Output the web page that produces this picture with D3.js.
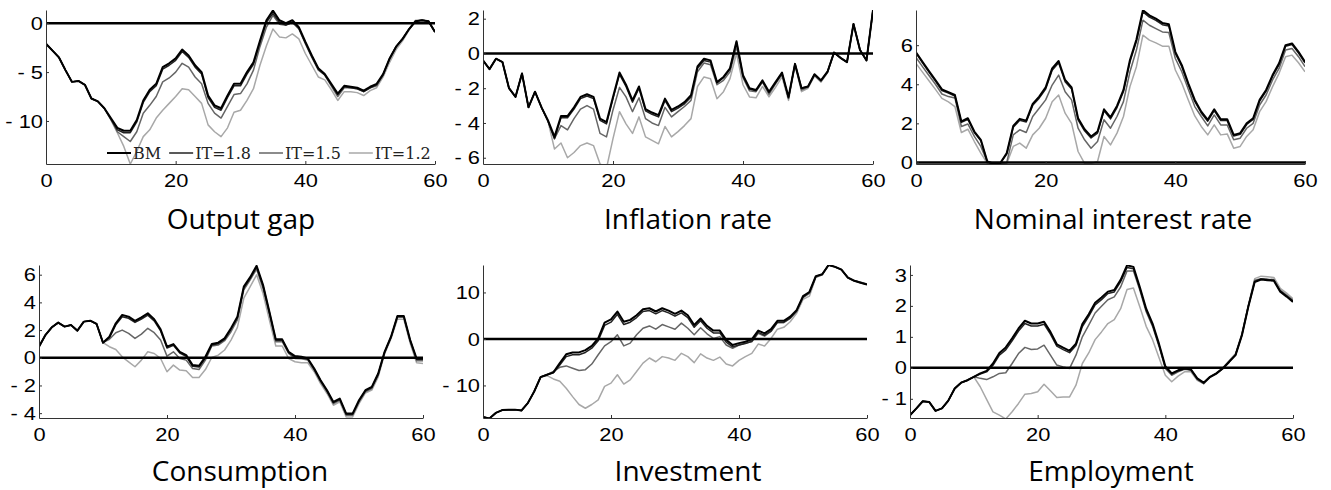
<!DOCTYPE html>
<html>
<head>
<meta charset="utf-8">
<script src="https://d3js.org/d3.v7.min.js"></script>
<style>
  body { margin: 0; background: #fff; }
  svg { display: block; }
  .tick text { font-family: "Liberation Sans", Arial, sans-serif; font-size: 19px; fill: #000;
               transform-box: fill-box; transform: scaleX(1.15); }
  .xaxis .tick text { transform-origin: center; }
  .yaxis .tick text { transform-origin: right center; }
  .domain, .tick line { stroke: #333; }
</style>
</head>
<body>
<svg id="chart" width="1331" height="490"></svg>
<script>
// x axis: quarters 0..60
var xTicks = [0, 20, 40, 60];
var seriesNames = ["BM", "IT=1.8", "IT=1.5", "IT=1.2"];

// Output gap
var gapBM = [-2.1,-2.8,-3.5,-4.8,-6.0,-5.9,-6.3,-7.7,-8.0,-8.7,-9.7,-10.7,-11.0,-11.0,-9.9,-7.9,-6.8,-6.2,-4.5,-4.1,-3.6,-2.7,-3.3,-4.3,-5.0,-7.4,-8.4,-8.7,-7.4,-6.2,-6.2,-5.0,-4.0,-1.8,0.3,1.3,0.3,0.0,0.3,-0.4,-1.9,-3.3,-4.6,-5.2,-6.2,-7.2,-6.4,-6.5,-6.6,-6.9,-6.5,-6.2,-5.2,-3.6,-2.4,-1.6,-0.6,0.2,0.3,0.2,-0.9];
var gapIT18 = [-2.1,-2.8,-3.5,-4.8,-6.0,-5.9,-6.3,-7.7,-8.0,-8.7,-9.8,-10.9,-11.2,-11.2,-10.1,-8.1,-7.0,-6.4,-4.7,-4.3,-3.8,-2.9,-3.5,-4.5,-5.2,-7.6,-8.6,-8.9,-7.6,-6.4,-6.4,-5.2,-4.2,-2.0,0.1,1.0,0.1,-0.2,0.1,-0.5,-2.0,-3.4,-4.7,-5.3,-6.3,-7.3,-6.5,-6.6,-6.7,-7.0,-6.6,-6.3,-5.3,-3.6,-2.4,-1.6,-0.6,0.2,0.3,0.2,-0.9];
var gapIT15 = [-2.1,-2.8,-3.5,-4.8,-6.0,-5.9,-6.3,-7.7,-8.0,-8.7,-9.8,-11.1,-11.6,-12.1,-11.1,-9.2,-8.4,-7.5,-6.0,-5.6,-5.0,-4.1,-4.5,-5.5,-6.2,-8.2,-9.2,-9.7,-8.5,-7.3,-7.2,-6.2,-4.8,-2.4,-0.4,0.8,-0.1,-0.2,0.1,-0.6,-2.1,-3.5,-4.8,-5.3,-6.4,-7.5,-6.6,-6.6,-6.7,-7.0,-6.6,-6.4,-5.2,-3.7,-2.4,-1.6,-0.6,0.2,0.3,0.2,-0.9];
var gapIT12 = [-2.1,-2.8,-3.5,-4.8,-6.0,-5.9,-6.3,-7.7,-8.0,-8.7,-9.9,-11.2,-12.6,-14.4,-13.1,-11.6,-10.9,-9.7,-8.9,-8.2,-7.5,-6.7,-6.8,-7.5,-8.2,-10.4,-11.1,-11.6,-10.7,-9.1,-8.9,-7.9,-6.7,-4.3,-2.3,-0.6,-1.4,-1.5,-1.1,-1.6,-3.1,-4.3,-5.5,-5.8,-6.8,-7.9,-7.0,-7.0,-7.1,-7.4,-6.9,-6.6,-5.5,-4.0,-2.7,-1.8,-0.7,0.3,0.3,0.2,-0.9];
var gapDomain = [-14.4, 1.35];
var gapTicks = [-10, -5, 0];

// Inflation rate
var inflBM = [-0.4,-0.9,-0.3,-0.5,-2.0,-2.5,-1.15,-3.1,-2.2,-3.1,-3.85,-4.8,-3.6,-3.6,-3.1,-2.5,-2.35,-2.5,-3.75,-3.95,-2.5,-1.1,-1.8,-2.7,-1.9,-3.2,-3.4,-3.55,-2.6,-3.25,-3.05,-2.8,-2.4,-0.75,-0.3,-0.4,-1.65,-1.35,-0.85,0.7,-1.25,-2.0,-2.1,-1.55,-2.2,-1.65,-1.1,-2.5,-0.6,-2.0,-1.9,-1.2,-1.55,-1.05,0.05,-0.25,-0.5,1.7,0.2,-0.4,2.5];
var inflIT18 = [-0.4,-0.9,-0.3,-0.5,-2.0,-2.5,-1.15,-3.1,-2.2,-3.1,-3.9,-4.9,-3.7,-3.7,-3.2,-2.6,-2.45,-2.6,-3.85,-4.05,-2.6,-1.2,-1.9,-2.8,-2.0,-3.3,-3.5,-3.65,-2.7,-3.35,-3.15,-2.9,-2.5,-0.85,-0.4,-0.5,-1.7,-1.4,-0.9,0.65,-1.3,-2.05,-2.15,-1.6,-2.25,-1.7,-1.15,-2.55,-0.6,-2.0,-1.9,-1.2,-1.55,-1.05,0.05,-0.25,-0.5,1.7,0.2,-0.4,2.5];
var inflIT15 = [-0.4,-0.9,-0.3,-0.5,-2.0,-2.5,-1.15,-3.1,-2.2,-3.1,-3.9,-4.9,-4.15,-4.4,-3.75,-3.2,-3.0,-3.2,-4.6,-4.8,-3.25,-1.95,-2.5,-3.35,-2.55,-3.75,-4.0,-4.15,-3.1,-3.65,-3.35,-3.05,-2.7,-1.05,-0.55,-0.65,-1.8,-1.55,-1.05,0.4,-1.4,-2.15,-2.2,-1.65,-2.35,-1.75,-1.2,-2.6,-0.6,-2.1,-1.95,-1.25,-1.6,-1.1,0.05,-0.25,-0.5,1.7,0.2,-0.4,2.5];
var inflIT12 = [-0.4,-0.9,-0.3,-0.5,-2.0,-2.5,-1.15,-3.1,-2.2,-3.1,-3.9,-5.5,-5.15,-6.0,-5.7,-5.3,-5.15,-5.3,-6.35,-6.6,-4.9,-3.35,-4.05,-4.6,-3.65,-4.8,-5.0,-5.2,-4.2,-4.8,-4.5,-4.15,-3.75,-1.9,-1.35,-1.45,-2.6,-2.2,-1.45,0.0,-1.8,-2.5,-2.55,-1.9,-2.5,-1.95,-1.35,-2.7,-0.7,-2.2,-2.0,-1.3,-1.65,-1.1,0.05,-0.25,-0.5,1.7,0.2,-0.4,2.5];
var inflDomain = [-6.36, 2.5];
var inflTicks = [-6, -4, -2, 0, 2];

// Nominal interest rate
var rateBM = [5.63,5.15,4.68,4.22,3.74,3.6,3.45,2.1,2.26,1.58,1.16,0.05,-0.07,-0.03,0.48,1.87,2.23,2.14,3.0,3.37,3.84,4.81,5.19,4.22,3.84,2.26,1.7,1.33,1.58,2.72,2.31,2.89,3.71,5.24,6.29,7.79,7.53,7.36,7.14,7.07,5.66,4.98,4.05,3.2,2.6,2.18,2.72,2.21,2.21,1.41,1.5,2.0,2.26,3.2,3.71,4.47,5.07,6.0,6.09,5.66,5.15];
var rateIT18 = [5.6,5.1,4.62,4.16,3.68,3.55,3.4,2.05,2.21,1.53,1.11,0.02,-0.07,-0.05,0.43,1.8,2.16,2.07,2.92,3.29,3.76,4.72,5.1,4.13,3.76,2.18,1.62,1.25,1.5,2.64,2.23,2.81,3.63,5.15,6.2,7.7,7.44,7.27,7.05,6.98,5.58,4.9,3.97,3.12,2.53,2.11,2.65,2.14,2.14,1.35,1.44,1.94,2.2,3.14,3.65,4.41,5.01,5.94,6.03,5.6,5.09];
var rateIT15 = [5.37,4.9,4.45,4.0,3.5,3.37,3.3,1.84,1.97,1.33,0.82,0.02,-0.05,-0.05,0.0,1.41,1.67,1.53,2.35,2.77,3.2,3.96,4.47,3.62,3.2,1.75,1.16,0.73,1.07,2.18,1.75,2.35,3.11,4.64,5.75,7.28,7.02,6.85,6.68,6.65,5.32,4.64,3.74,2.86,2.35,1.87,2.43,1.92,1.92,1.16,1.24,1.75,2.0,2.94,3.45,4.22,4.81,5.75,5.83,5.41,4.9];
var rateIT12 = [5.07,4.62,4.18,3.74,3.28,3.1,2.86,1.53,1.7,1.07,0.48,-0.05,-0.07,-0.07,-0.05,0.82,0.99,0.73,1.41,1.75,2.26,3.11,3.45,2.52,2.0,0.56,-0.05,-0.05,0.05,1.33,0.9,1.5,2.35,3.88,4.9,6.51,6.26,6.12,5.95,5.95,4.73,4.05,3.2,2.38,1.84,1.41,1.92,1.41,1.46,0.73,0.82,1.33,1.67,2.6,3.11,3.88,4.56,5.41,5.49,5.1,4.64];
var rateDomain = [-0.08, 7.8];
var rateTicks = [0, 2, 4, 6];

// Consumption
var consBM = [0.8,1.64,2.2,2.54,2.25,2.37,1.96,2.61,2.68,2.44,1.09,1.52,2.49,3.09,2.97,2.66,2.92,3.21,2.78,2.05,0.8,0.99,0.43,0.19,-0.53,-0.58,0.07,0.99,1.09,1.4,2.13,2.97,5.14,5.82,6.64,5.27,3.33,1.33,1.33,0.43,0.12,0.07,-0.05,-0.77,-1.62,-2.34,-3.19,-2.95,-4.03,-4.03,-3.07,-2.34,-2.1,-1.14,0.43,1.52,3.02,3.02,1.28,-0.05,-0.05];
var consIT18 = [0.8,1.64,2.2,2.54,2.25,2.37,1.96,2.61,2.68,2.44,1.09,1.45,2.38,2.96,2.85,2.55,2.8,3.08,2.66,1.94,0.7,0.9,0.34,0.1,-0.62,-0.67,-0.02,0.92,1.02,1.33,2.06,2.9,5.06,5.74,6.56,5.2,3.27,1.27,1.27,0.38,0.07,0.02,-0.1,-0.82,-1.67,-2.39,-3.24,-3.0,-4.08,-4.08,-3.12,-2.39,-2.15,-1.18,0.4,1.49,2.98,2.98,1.24,-0.1,-0.1];
var consIT15 = [0.8,1.64,2.2,2.54,2.25,2.37,1.96,2.61,2.68,2.44,1.09,1.33,1.81,2.0,1.76,1.4,1.71,2.13,1.81,1.28,0.12,0.43,-0.05,-0.17,-0.77,-0.85,-0.17,0.85,0.92,1.23,1.88,2.73,4.9,5.63,6.4,5.02,3.16,1.16,1.16,0.31,-0.05,-0.07,-0.17,-0.89,-1.74,-2.46,-3.31,-3.07,-4.15,-4.15,-3.19,-2.46,-2.22,-1.26,0.36,1.45,2.92,2.92,1.16,-0.22,-0.22];
var consIT12 = [0.8,1.64,2.2,2.54,2.25,2.37,1.96,2.61,2.68,2.44,1.09,0.8,0.6,0.07,-0.29,-0.65,-0.17,0.43,0.31,-0.05,-1.01,-0.53,-0.89,-0.94,-1.43,-1.43,-0.85,0.02,0.19,0.56,1.28,2.2,4.3,5.14,5.99,4.66,2.73,0.85,0.85,-0.05,-0.29,-0.36,-0.36,-1.01,-1.86,-2.58,-3.43,-3.19,-4.28,-4.28,-3.31,-2.54,-2.34,-1.38,0.27,1.38,2.78,2.78,1.04,-0.36,-0.41];
var consDomain = [-4.35, 6.7];
var consTicks = [-4, -2, 0, 2, 4, 6];

// Investment
var invBM = [-16.8,-17.1,-15.9,-15.3,-15.2,-15.2,-15.4,-13.8,-11.3,-8.2,-7.7,-7.2,-5.2,-3.3,-2.9,-2.9,-2.4,-1.5,0.1,3.5,4.2,5.9,3.7,4.1,5.1,6.4,6.6,5.9,6.6,6.1,5.4,6.1,5.1,3.0,4.4,2.8,1.8,1.8,-0.2,-1.3,-0.9,-0.6,-0.1,1.8,1.2,2.1,3.9,3.9,4.8,6.2,9.2,10.1,13.5,13.9,15.9,15.5,14.9,13.2,12.5,12.1,11.7];
var invIT18 = [-16.8,-17.1,-15.9,-15.3,-15.2,-15.2,-15.4,-13.8,-11.3,-8.2,-7.7,-7.3,-5.6,-3.8,-3.4,-3.4,-2.9,-2.0,-0.4,2.9,3.6,5.3,3.1,3.6,4.6,5.9,6.1,5.4,6.1,5.6,4.9,5.6,4.6,2.5,3.9,2.3,1.3,1.3,-0.7,-1.7,-1.3,-1.0,-0.5,1.4,0.8,1.7,3.6,3.6,4.5,6.0,9.0,10.0,13.4,13.9,15.9,15.5,14.9,13.2,12.5,12.1,11.7];
var invIT15 = [-16.8,-17.1,-15.9,-15.3,-15.2,-15.2,-15.4,-13.8,-11.3,-8.2,-7.7,-7.0,-6.1,-5.8,-6.3,-6.8,-6.6,-5.4,-3.4,-1.5,-0.6,0.9,-1.5,-0.9,0.9,2.3,2.8,2.1,3.1,2.6,2.1,3.4,2.3,0.9,2.4,1.1,0.1,0.5,-1.3,-2.0,-1.3,-0.9,-0.6,1.2,0.6,1.6,3.5,3.5,4.4,5.9,8.9,9.8,13.3,13.8,15.9,15.5,14.9,13.2,12.6,12.2,11.8];
var invIT12 = [-16.8,-17.1,-15.9,-15.3,-15.2,-15.2,-15.4,-13.8,-11.3,-8.2,-7.9,-8.6,-9.1,-10.6,-12.4,-14.1,-14.9,-14.1,-13.1,-10.2,-9.5,-7.7,-9.7,-8.8,-7.0,-5.2,-4.1,-4.9,-3.8,-4.1,-4.6,-3.1,-3.8,-5.1,-3.2,-4.1,-4.6,-3.9,-5.4,-5.8,-4.6,-3.8,-3.1,-1.1,-1.5,0.1,2.1,2.5,3.7,5.5,8.5,9.2,13.2,13.8,15.9,15.6,15.0,13.3,12.6,12.2,11.8];
var invDomain = [-17, 15.9];
var invTicks = [-10, 0, 10];

// Employment
var empBM = [-1.53,-1.31,-1.08,-1.1,-1.39,-1.31,-1.06,-0.67,-0.48,-0.4,-0.29,-0.18,-0.1,0.14,0.48,0.66,0.95,1.27,1.52,1.43,1.43,1.49,1.16,0.76,0.65,0.55,0.78,1.41,1.73,2.1,2.27,2.46,2.51,2.84,3.31,3.26,2.61,1.91,1.43,0.78,0.05,-0.18,-0.08,-0.02,-0.05,-0.34,-0.48,-0.29,-0.18,-0.02,0.19,0.41,1.05,1.97,2.77,2.85,2.83,2.81,2.46,2.3,2.13];
var empIT18 = [-1.53,-1.31,-1.08,-1.1,-1.39,-1.31,-1.06,-0.67,-0.48,-0.4,-0.29,-0.2,-0.13,0.08,0.41,0.58,0.87,1.19,1.43,1.35,1.35,1.41,1.09,0.7,0.59,0.49,0.72,1.33,1.66,2.03,2.2,2.4,2.45,2.78,3.24,3.2,2.56,1.86,1.38,0.74,0.02,-0.2,-0.1,-0.03,-0.06,-0.35,-0.49,-0.3,-0.18,-0.02,0.2,0.42,1.06,1.98,2.79,2.87,2.85,2.83,2.48,2.32,2.15];
var empIT15 = [-1.53,-1.31,-1.08,-1.1,-1.39,-1.31,-1.06,-0.67,-0.48,-0.4,-0.29,-0.34,-0.38,-0.29,-0.18,-0.16,0.14,0.46,0.66,0.59,0.61,0.73,0.41,0.09,0.03,-0.02,0.41,1.0,1.38,1.77,1.99,2.2,2.29,2.61,3.13,3.13,2.51,1.81,1.34,0.7,-0.02,-0.24,-0.13,-0.05,-0.08,-0.38,-0.51,-0.31,-0.2,-0.02,0.22,0.43,1.08,2.0,2.83,2.88,2.86,2.85,2.51,2.35,2.18];
var empIT12 = [-1.53,-1.31,-1.08,-1.1,-1.39,-1.31,-1.06,-0.67,-0.48,-0.4,-0.29,-0.61,-1.02,-1.42,-1.53,-1.65,-1.42,-1.15,-0.85,-0.83,-0.77,-0.53,-0.74,-0.96,-0.94,-0.94,-0.56,0.14,0.48,0.91,1.16,1.43,1.56,1.91,2.53,2.58,1.97,1.34,0.91,0.33,-0.24,-0.45,-0.27,-0.13,-0.13,-0.4,-0.51,-0.29,-0.16,0.01,0.23,0.46,1.11,2.02,2.88,2.96,2.94,2.92,2.57,2.41,2.23];
var empDomain = [-1.62, 3.32];
var empTicks = [-1, 0, 1, 2, 3];

var colors = ["#000000", "#222222", "#666666", "#a8a8a8"];
var widths = [2, 1.5, 1.5, 1.5];

var panels = [
    {title: "Output gap", data: [gapBM, gapIT18, gapIT15, gapIT12], domain: gapDomain, ticks: gapTicks,
     left: 46, right: 435, top: 10, bottom: 164, tx: 241, ty: 229, legend: true},
    {title: "Inflation rate", data: [inflBM, inflIT18, inflIT15, inflIT12], domain: inflDomain, ticks: inflTicks,
     left: 483, right: 873, top: 10, bottom: 164, tx: 688, ty: 229},
    {title: "Nominal interest rate", data: [rateBM, rateIT18, rateIT15, rateIT12], domain: rateDomain, ticks: rateTicks,
     left: 916, right: 1305, top: 10, bottom: 164, tx: 1113, ty: 229},
    {title: "Consumption", data: [consBM, consIT18, consIT15, consIT12], domain: consDomain, ticks: consTicks,
     left: 39, right: 423, top: 265, bottom: 418, tx: 240, ty: 481},
    {title: "Investment", data: [invBM, invIT18, invIT15, invIT12], domain: invDomain, ticks: invTicks,
     left: 483, right: 867, top: 265, bottom: 418, tx: 688, ty: 481},
    {title: "Employment", data: [empBM, empIT18, empIT15, empIT12], domain: empDomain, ticks: empTicks,
     left: 910, right: 1293, top: 265, bottom: 418, tx: 1111, ty: 481}
];

var svg = d3.select("#chart");
svg.append("rect").attr("width", 1331).attr("height", 490).attr("fill", "#fff");

var fmt = function(d) { return d < 0 ? "- " + Math.abs(d) : String(d); };

panels.forEach(function(p, k) {
    var x = d3.scaleLinear().domain([0, 60]).range([p.left, p.right]);
    var y = d3.scaleLinear().domain(p.domain).range([p.bottom, p.top]);

    var clipId = "clip" + k;
    svg.append("clipPath").attr("id", clipId)
        .append("rect")
        .attr("x", p.left).attr("y", p.top)
        .attr("width", p.right - p.left).attr("height", p.bottom - p.top);

    var g = svg.append("g").attr("clip-path", "url(#" + clipId + ")");

    var line = d3.line()
        .x(function(d, i) { return x(i); })
        .y(function(d) { return y(d); });

    // draw light lines first so BM sits on top
    for (var s = 3; s >= 0; s--) {
        g.append("path")
            .datum(p.data[s])
            .attr("fill", "none")
            .attr("stroke", colors[s])
            .attr("stroke-width", widths[s])
            .attr("stroke-linejoin", "round")
            .attr("d", line);
    }

    g.append("line")
        .attr("x1", x(0)).attr("x2", x(60))
        .attr("y1", y(0)).attr("y2", y(0))
        .attr("stroke", "#000").attr("stroke-width", 2.5);

    svg.append("g")
        .attr("class", "xaxis")
        .attr("transform", "translate(0," + p.bottom + ")")
        .call(d3.axisBottom(x).tickValues(xTicks).tickSize(-3).tickSizeOuter(0).tickPadding(10));

    svg.append("g")
        .attr("class", "yaxis")
        .attr("transform", "translate(" + p.left + ",0)")
        .call(d3.axisLeft(y).tickValues(p.ticks).tickFormat(fmt).tickSize(-3).tickSizeOuter(0).tickPadding(3));

    svg.append("text")
        .attr("x", p.tx).attr("y", p.ty)
        .attr("text-anchor", "middle")
        .style("font-family", "'Open Sans', sans-serif")
        .style("font-size", "28px")
        .style("fill", "#000")
        .text(p.title);

    if (p.legend) {
        var lg = svg.append("g").attr("transform", "translate(107," + 153 + ")");
        var cx = 0;
        seriesNames.forEach(function(name, s) {
            lg.append("line")
                .attr("x1", cx).attr("x2", cx + 24)
                .attr("y1", 0).attr("y2", 0)
                .attr("stroke", colors[s]).attr("stroke-width", widths[s]);
            var t = lg.append("text")
                .attr("x", cx + 26).attr("y", 5.5)
                .style("font-family", "'DejaVu Serif', serif")
                .style("font-size", "16px")
                .style("fill", "#222")
                .text(name);
            cx += 26 + t.node().getComputedTextLength() + 8;
        });
    }
});
</script>
</body>
</html>
